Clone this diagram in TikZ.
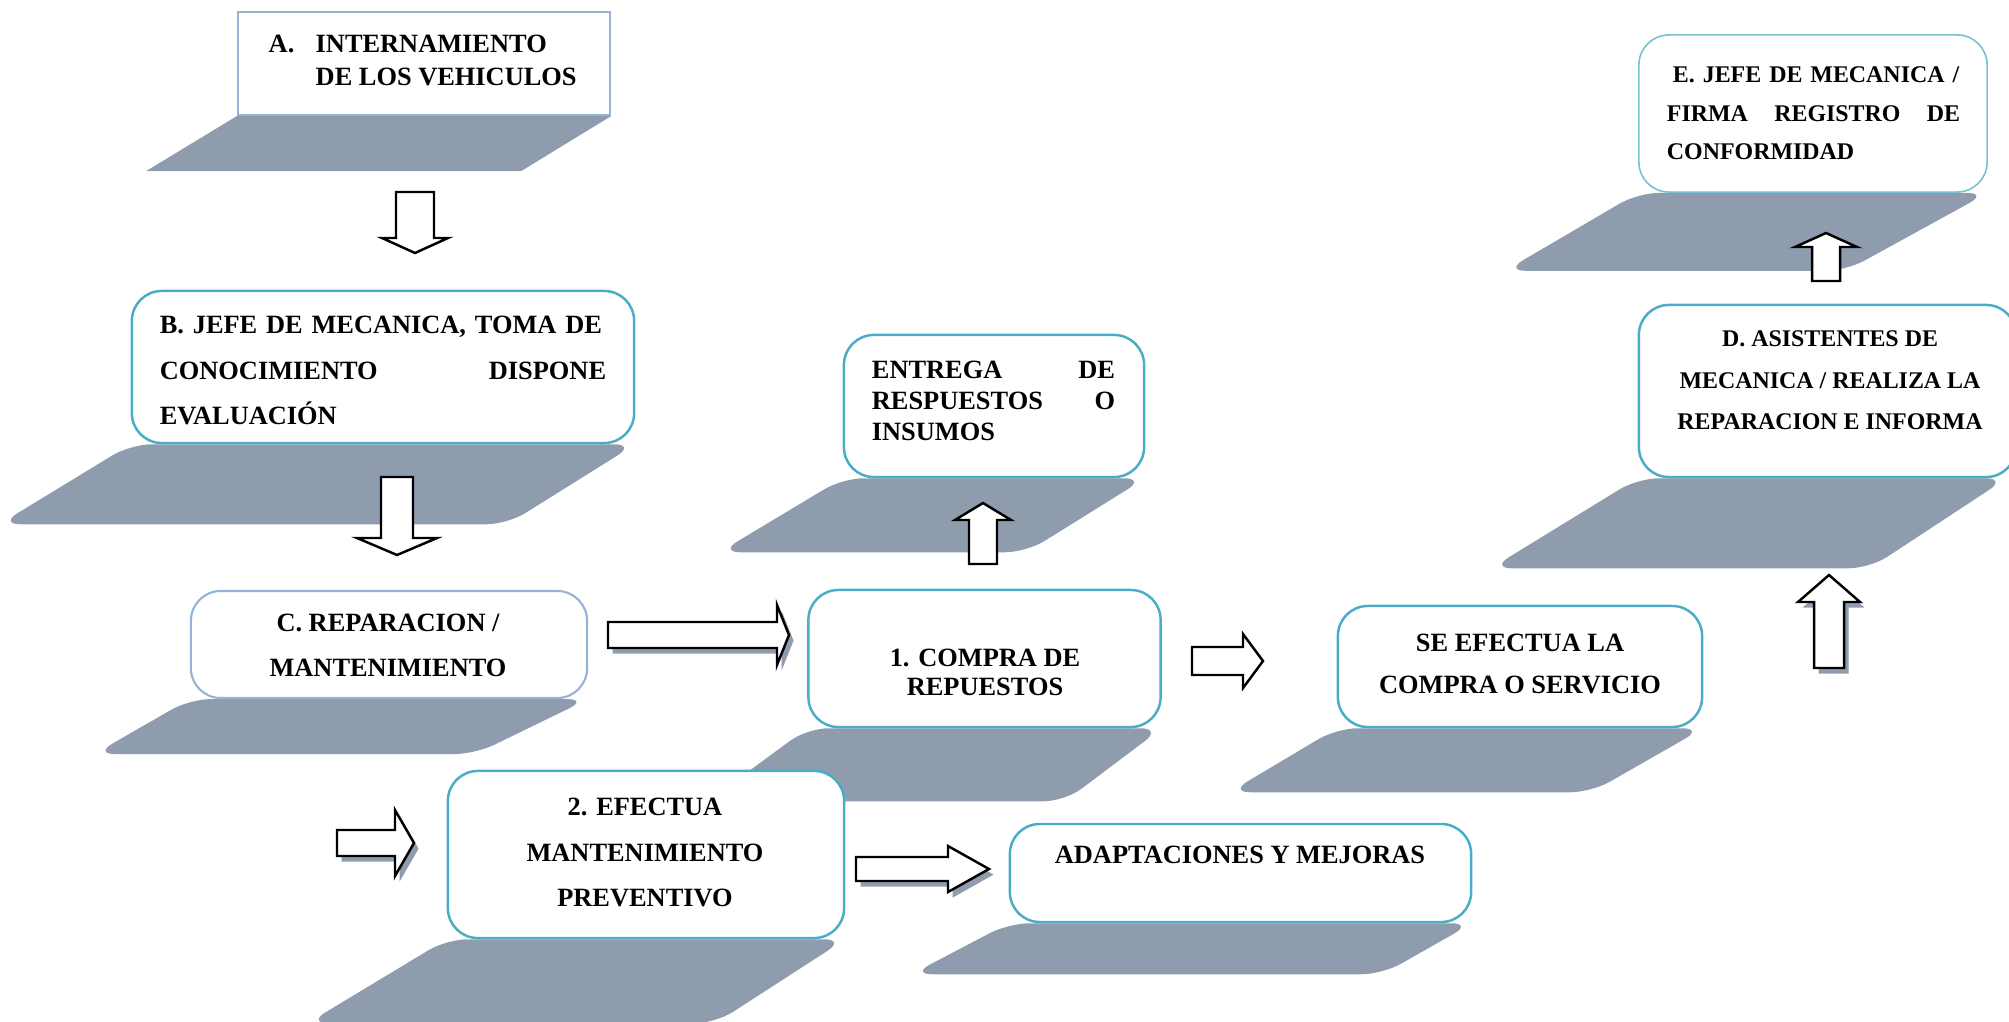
\documentclass[tikz,border=0pt]{standalone}
\usepackage{fontspec}
\setmainfont{Liberation Serif}
\usetikzlibrary{backgrounds}
\definecolor{sombra}{RGB}{143,156,174}
\definecolor{azulclaro}{RGB}{149,179,215}
\definecolor{turquesa}{RGB}{75,172,198}
\definecolor{celeste}{RGB}{120,192,212}
\begin{document}
\begin{tikzpicture}[x=0.01cm,y=-0.01cm,
  caja/.style={draw=turquesa,line width=0.7pt,fill=white,rounded corners=8.5pt,inner sep=0pt},
  cajaclara/.style={caja,draw=azulclaro,line width=0.6pt},
  texto/.style={inner sep=0pt,font=\bfseries\fontsize{7.5}{#1}\selectfont},
  texto/.default=9pt,
  textop/.style={inner sep=0pt,font=\bfseries\fontsize{6.8}{#1}\selectfont},
  textop/.default=8pt,
  piso/.style={fill=sombra,rounded corners=6pt},
  flecha/.style={draw=black,line width=0.7pt,fill=white,line join=miter},
  sombrita/.style={preaction={fill=sombra,transform canvas={xshift=1.3pt,yshift=-1.6pt}}}]
\useasboundingbox (0,0) rectangle (2009,1021);
\node[cajaclara,sharp corners,minimum width=3.72cm,minimum height=1.03cm] (intern) at (424,63.5) {};
\node[texto=9.4pt,align=left,anchor=west] (t-intern) at (268,60) {\makebox[0.47cm][l]{A.}INTERNAMIENTO\\\hspace*{0.47cm}DE LOS VEHICULOS};
\node[caja,minimum width=5.02cm,minimum height=1.52cm] (jefeB) at (383,367) {};
\node[texto=12.9pt,text width=4.46cm,align=left] (t-jefeB) at (383,370.5) {\makebox[\hsize][s]{B. JEFE DE MECANICA, TOMA DE}\\CONOCIMIENTO\hfill DISPONE\\EVALUACIÓN};
\node[cajaclara,minimum width=3.96cm,minimum height=1.07cm] (repar) at (389,644.5) {};
\node[texto=12.8pt,align=center] (t-repar) at (388,645.5) {C. REPARACION /\\MANTENIMIENTO};
\node[caja,minimum width=3cm,minimum height=1.42cm] (entrega) at (994,406) {};
\node[texto=8.8pt,text width=2.43cm,align=left] (t-entrega) at (993.5,401) {ENTREGA\hfill DE\\RESPUESTOS\hfill O\\INSUMOS};
\node[caja,minimum width=3.52cm,minimum height=1.37cm] (compra) at (984.5,658.5) {};
\node[texto=8.4pt,align=center] (t-compra) at (985,672.5) {1. COMPRA DE\\REPUESTOS};
\node[caja,minimum width=3.64cm,minimum height=1.21cm] (efectua) at (1520,666.5) {};
\node[texto=11.9pt,align=center] (t-efectua) at (1520,664) {SE EFECTUA LA\\COMPRA O SERVICIO};
\node[caja,minimum width=3.77cm,minimum height=1.72cm] (asist) at (1827.5,391) {};
\node[textop=11.8pt,align=center] (t-asist) at (1830,380.5) {D. ASISTENTES DE\\MECANICA / REALIZA LA\\REPARACION E INFORMA};
\node[caja,draw=celeste,line width=0.45pt,minimum width=3.48cm,minimum height=1.57cm] (jefeE) at (1813,113.5) {};
\node[textop=10.95pt,text width=2.93cm,align=left] (t-jefeE) at (1813.5,113.5) {\hspace*{0.06cm}E. JEFE DE MECANICA /\\FIRMA\hfill REGISTRO\hfill DE\\CONFORMIDAD};
\node[caja,minimum width=3.96cm,minimum height=1.67cm] (prev) at (646,854.5) {};
\node[texto=12.9pt,align=center] (t-prev) at (645,852.5) {2. EFECTUA\\MANTENIMIENTO\\PREVENTIVO};
\node[caja,minimum width=4.61cm,minimum height=0.98cm] (adapt) at (1240.5,873) {};
\node[texto,align=center] (t-adapt) at (1240,855) {ADAPTACIONES Y MEJORAS};
\begin{scope}[on background layer]
\fill[sombra] (intern.south west) -- (intern.south east) -- ++(-90,55) -- ++(-375,0) -- cycle;
\fill[piso] (jefeB.south west) -- (jefeB.south east) -- ++(-128,80) -- ++(-508,0) -- cycle;
\fill[piso] (repar.south west) -- (repar.south east) -- ++(-113,55) -- ++(-381,0) -- cycle;
\fill[piso] (entrega.south west) -- (entrega.south east) -- ++(-119,74) -- ++(-307,0) -- cycle;
\fill[piso] (compra.south west) -- (compra.south east) -- ++(-97,73) -- ++(-357,0) -- cycle;
\fill[piso] (efectua.south west) -- (efectua.south east) -- ++(-112,64) -- ++(-362,0) -- cycle;
\fill[piso] (asist.south west) -- ([xshift=-3pt]asist.south east) -- ++(-137,90) -- ++(-379,0) -- cycle;
\fill[piso] (jefeE.south west) -- (jefeE.south east) -- ++(-142,78) -- ++(-341,0) -- cycle;
\fill[piso] (prev.south west) -- (prev.south east) -- ++(-130,84) -- ++(-408,0) -- cycle;
\fill[piso] (adapt.south west) -- (adapt.south east) -- ++(-90,51) -- ++(-471,0) -- cycle;
\end{scope}
\draw[flecha] (396,192) -- ++(38,0) -- ++(0,46) -- ++(14,0) -- ++(-33,15) -- ++(-33,-15) -- ++(14,0) -- cycle;
\draw[flecha] (381,477) -- ++(32,0) -- ++(0,61) -- ++(24,0) -- ++(-40,17) -- ++(-40,-17) -- ++(24,0) -- cycle;
\draw[flecha,sombrita] (608,622) -- ++(169,0) -- ++(0,-17) -- ++(12,30) -- ++(-12,30) -- ++(0,-17) -- ++(-169,0) -- cycle;
\draw[flecha] (969,564) -- ++(0,-44) -- ++(-14,0) -- ++(28,-17) -- ++(28,17) -- ++(-14,0) -- ++(0,44) -- cycle;
\draw[flecha] (1192,647) -- ++(51,0) -- ++(0,-13) -- ++(20,27) -- ++(-20,27) -- ++(0,-13) -- ++(-51,0) -- cycle;
\draw[flecha,sombrita] (1814,668) -- ++(0,-66) -- ++(-16,0) -- ++(31,-27) -- ++(31,27) -- ++(-16,0) -- ++(0,66) -- cycle;
\draw[flecha] (1812,281) -- ++(0,-34) -- ++(-17,0) -- ++(31,-14) -- ++(31,14) -- ++(-17,0) -- ++(0,34) -- cycle;
\draw[flecha,sombrita] (337,830) -- ++(58,0) -- ++(0,-20) -- ++(19,33) -- ++(-19,33) -- ++(0,-20) -- ++(-58,0) -- cycle;
\draw[flecha,sombrita] (856,857) -- ++(92,0) -- ++(0,-11) -- ++(41,23) -- ++(-41,23) -- ++(0,-11) -- ++(-92,0) -- cycle;
\end{tikzpicture}
\end{document}
